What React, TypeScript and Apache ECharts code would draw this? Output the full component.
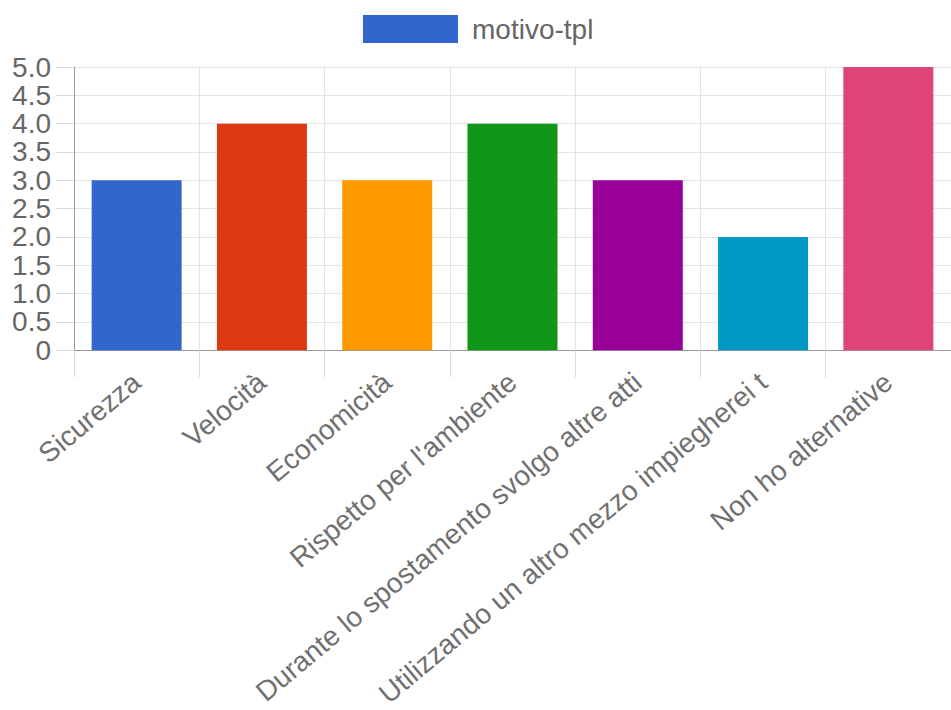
import React, { useEffect, useRef } from "react";
import * as echarts from "echarts";

const categories = [
  "Sicurezza",
  "Velocità",
  "Economicità",
  "Rispetto per l'ambiente",
  "Durante lo spostamento svolgo altre atti",
  "Utilizzando un altro mezzo impiegherei t",
  "Non ho alternative",
];
const values = [3, 4, 3, 4, 3, 2, 5];
const barColors = ["#3366CC", "#DC3912", "#FF9900", "#109618", "#990099", "#0099C6", "#DD4477"];
const seriesName = "motivo-tpl";

const FONT = "'Liberation Sans', Arial, Helvetica, sans-serif";

export default function App() {
  const ref = useRef<HTMLDivElement>(null);
  useEffect(() => {
    if (!ref.current) return;
    const chart = echarts.init(ref.current, undefined, { renderer: "svg" });
    chart.setOption({
      animation: false,
      backgroundColor: "#ffffff",
      textStyle: { fontFamily: FONT },
      legend: {
        data: [seriesName],
        top: 10,
        left: 358,
        icon: "rect",
        itemWidth: 95,
        itemHeight: 28,
        itemGap: 14,
        textStyle: { fontSize: 28, color: "#666666", fontFamily: FONT, padding: [0, 0, 0, 9] },
      },
      grid: { left: 74, top: 67, right: -6, bottom: 355, containLabel: false },
      xAxis: {
        type: "category",
        data: categories,
        boundaryGap: true,
        axisLine: { show: true, lineStyle: { color: "#9a9a9a", width: 1 } },
        axisTick: { show: true, length: 27, interval: 0, lineStyle: { color: "#d9d9d9" } },
        splitLine: { show: true, interval: 0, lineStyle: { color: "#e3e3e3" } },
        axisLabel: {
          interval: 0,
          rotate: 40,
          margin: 28,
          fontSize: 28,
          color: "#707070",
          fontFamily: FONT,
        },
      },
      yAxis: {
        type: "value",
        min: 0,
        max: 5,
        interval: 0.5,
        axisLine: { show: true, lineStyle: { color: "#9a9a9a", width: 1 } },
        axisTick: { show: true, length: 18, lineStyle: { color: "#d9d9d9" } },
        splitLine: { show: true, lineStyle: { color: "#e3e3e3" } },
        axisLabel: {
          margin: 23,
          fontSize: 28,
          color: "#666666",
          fontFamily: FONT,
          formatter: (v: number) => (v === 0 ? "0" : v.toFixed(1)),
        },
      },
      series: [
        {
          name: seriesName,
          type: "bar",
          barWidth: 90,
          itemStyle: { color: barColors[0] },
          data: values.map((v, i) => ({ value: v, itemStyle: { color: barColors[i] } })),
        },
      ],
    });
    return () => chart.dispose();
  }, []);
  return (
    <div
      ref={ref}
      style={{ position: "fixed", left: 0, top: 0, width: 951, height: 710, background: "#fff" }}
    />
  );
}
